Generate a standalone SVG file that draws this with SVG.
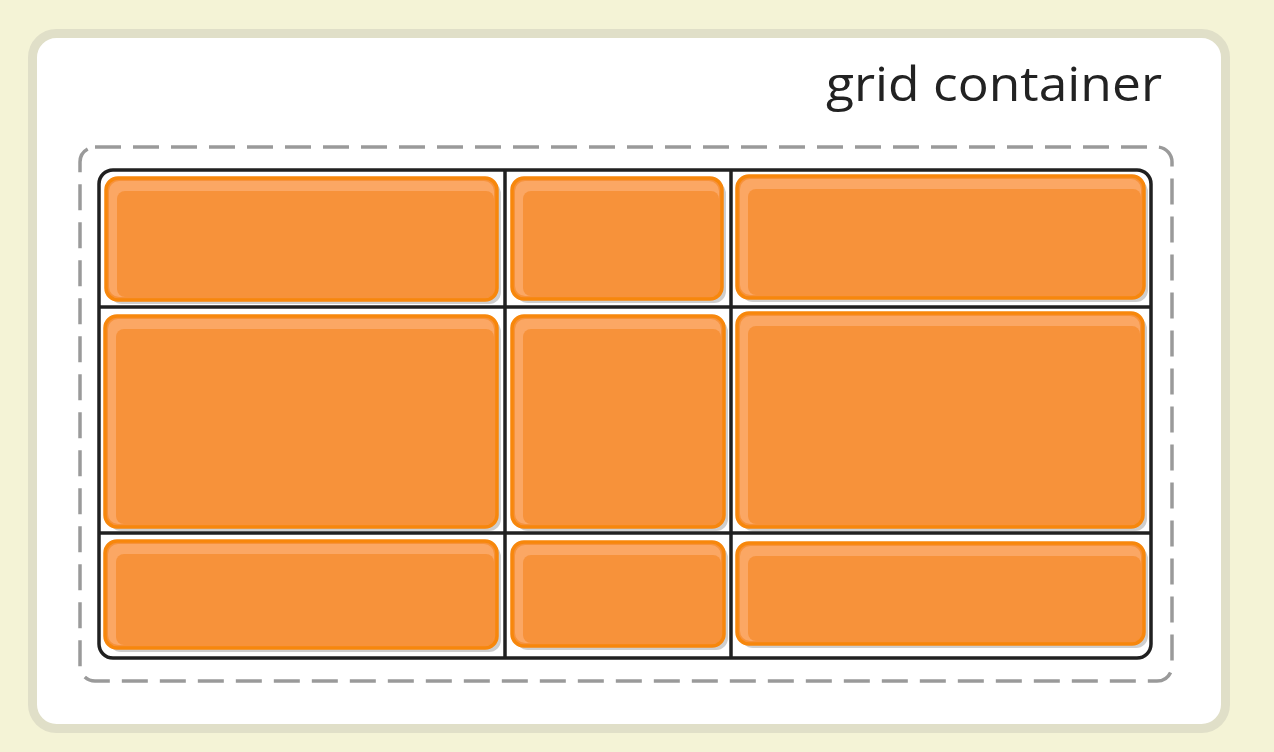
<svg xmlns="http://www.w3.org/2000/svg" width="1274" height="752" viewBox="0 0 1274 752">
<style>
.item .sh{fill:#cecece}
.item .base{fill:#f7923a;stroke:#f7870c;stroke-width:3.5}
.item .hl{fill:#fba764}
.item .in{fill:#f7923a}
.grid{fill:none;stroke:#202020;stroke-width:3.5}
.gl{stroke:#202020;stroke-width:3.5}
</style>
<rect x="0" y="0" width="1274" height="752" fill="#f4f3d6"/>
<rect id="container" x="32.5" y="33.5" width="1193" height="695" rx="24" fill="#ffffff" stroke="#e0dfc8" stroke-width="9"/>
<text x="826" y="101" textLength="336" lengthAdjust="spacingAndGlyphs" font-family="'Open Sans', Lato, sans-serif" font-size="47" fill="#222222">grid container</text>
<rect id="dashed" x="80" y="147" width="1092" height="534" rx="15" fill="none" stroke="#9a9a9a" stroke-width="3.5" stroke-dasharray="26 12"/>
<g id="items">
<g id="item1" class="item"><rect class="sh" x="110" y="182" width="391" height="122" rx="12"/><rect class="base" x="106" y="178" width="391" height="122" rx="12"/><rect class="hl" x="109" y="181" width="385" height="116" rx="10"/><rect class="in" x="117" y="191" width="377" height="106" rx="8"/></g>
<g id="item2" class="item"><rect class="sh" x="516" y="182" width="210" height="121" rx="12"/><rect class="base" x="512" y="178" width="210" height="121" rx="12"/><rect class="hl" x="515" y="181" width="204" height="115" rx="10"/><rect class="in" x="523" y="191" width="196" height="105" rx="8"/></g>
<g id="item3" class="item"><rect class="sh" x="741" y="180" width="407" height="122" rx="12"/><rect class="base" x="737" y="176" width="407" height="122" rx="12"/><rect class="hl" x="740" y="179" width="401" height="116" rx="10"/><rect class="in" x="748" y="189" width="393" height="106" rx="8"/></g>
<g id="item4" class="item"><rect class="sh" x="109" y="320" width="392" height="211" rx="12"/><rect class="base" x="105" y="316" width="392" height="211" rx="12"/><rect class="hl" x="108" y="319" width="386" height="205" rx="10"/><rect class="in" x="116" y="329" width="378" height="195" rx="8"/></g>
<g id="item5" class="item"><rect class="sh" x="516" y="320" width="212" height="211" rx="12"/><rect class="base" x="512" y="316" width="212" height="211" rx="12"/><rect class="hl" x="515" y="319" width="206" height="205" rx="10"/><rect class="in" x="523" y="329" width="198" height="195" rx="8"/></g>
<g id="item6" class="item"><rect class="sh" x="741" y="317" width="406" height="214" rx="12"/><rect class="base" x="737" y="313" width="406" height="214" rx="12"/><rect class="hl" x="740" y="316" width="400" height="208" rx="10"/><rect class="in" x="748" y="326" width="392" height="198" rx="8"/></g>
<g id="item7" class="item"><rect class="sh" x="109" y="545" width="392" height="107" rx="12"/><rect class="base" x="105" y="541" width="392" height="107" rx="12"/><rect class="hl" x="108" y="544" width="386" height="101" rx="10"/><rect class="in" x="116" y="554" width="378" height="91" rx="8"/></g>
<g id="item8" class="item"><rect class="sh" x="516" y="546" width="212" height="104" rx="12"/><rect class="base" x="512" y="542" width="212" height="104" rx="12"/><rect class="hl" x="515" y="545" width="206" height="98" rx="10"/><rect class="in" x="523" y="555" width="198" height="88" rx="8"/></g>
<g id="item9" class="item"><rect class="sh" x="741" y="547" width="407" height="101" rx="12"/><rect class="base" x="737" y="543" width="407" height="101" rx="12"/><rect class="hl" x="740" y="546" width="401" height="95" rx="10"/><rect class="in" x="748" y="556" width="393" height="85" rx="8"/></g>
</g>
<g id="gridlines">
<rect class="grid" x="99" y="170" width="1052" height="488" rx="14"/>
<line class="gl" x1="505" y1="170" x2="505" y2="658"/>
<line class="gl" x1="731" y1="170" x2="731" y2="658"/>
<line class="gl" x1="99" y1="307" x2="1151" y2="307"/>
<line class="gl" x1="99" y1="533" x2="1151" y2="533"/>
</g>
</svg>
